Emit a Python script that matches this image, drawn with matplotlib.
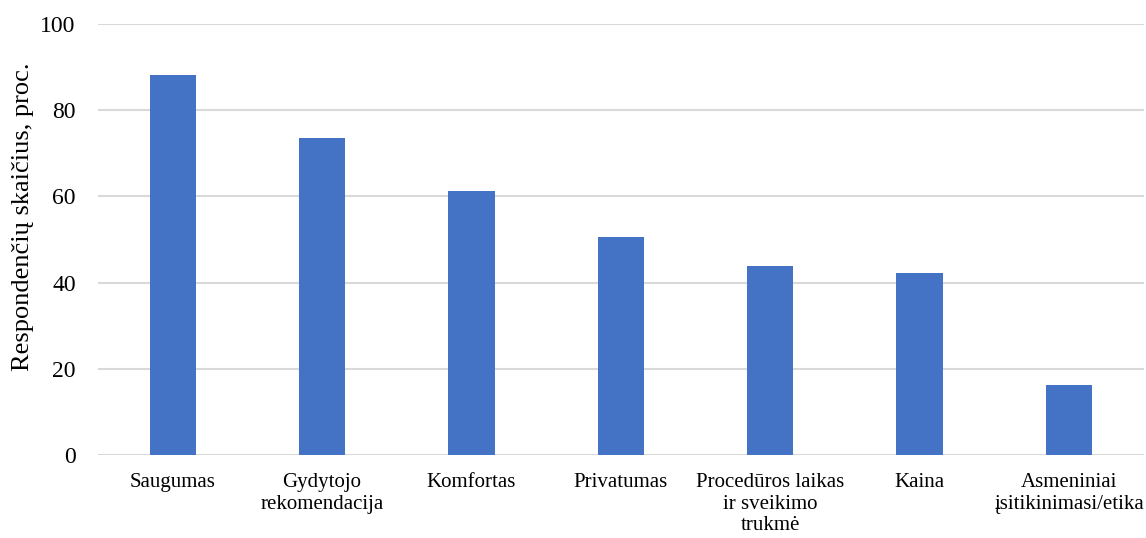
import matplotlib
matplotlib.use("Agg")
import matplotlib.pyplot as plt
import numpy as np

plt.rcParams['font.family'] = ['Liberation Serif', 'DejaVu Serif']

categories = [
    "Saugumas",
    "Gydytojo\nrekomendacija",
    "Komfortas",
    "Privatumas",
    "Procedūros laikas\nir sveikimo\ntrukmė",
    "Kaina",
    "Asmeniniai\nįsitikinimasi/etika",
]
values = [88.0, 73.6, 61.2, 50.7, 43.9, 42.2, 16.3]
yticks = [0, 20, 40, 60, 80, 100]

fig = plt.figure(figsize=(11.46, 5.38), dpi=100)
ax = fig.add_axes([0.0855, 0.1535, 0.9125, 0.8025])

x = np.arange(len(categories))
ax.bar(x, values, width=0.31, color="#4472C4", zorder=3)

ax.set_xlim(-0.5, len(categories) - 0.5)
ax.set_ylim(0, 100)
ax.set_yticks(yticks)
ax.set_xticks(x)
ax.set_xticklabels(categories, fontsize=15, linespacing=1.15)
ax.tick_params(axis="y", labelsize=17, length=0, pad=16)
ax.tick_params(axis="x", length=0, pad=13)
ax.grid(axis="y", color="#D9D9D9", linewidth=1.5, zorder=0)
for s in ax.spines.values():
    s.set_visible(False)

ax.set_ylabel("Respondenčių skaičius, proc.", fontsize=19, va="center")
ax.yaxis.set_label_coords(-0.072, 0.552)

fig.savefig("out.png", dpi=100)
